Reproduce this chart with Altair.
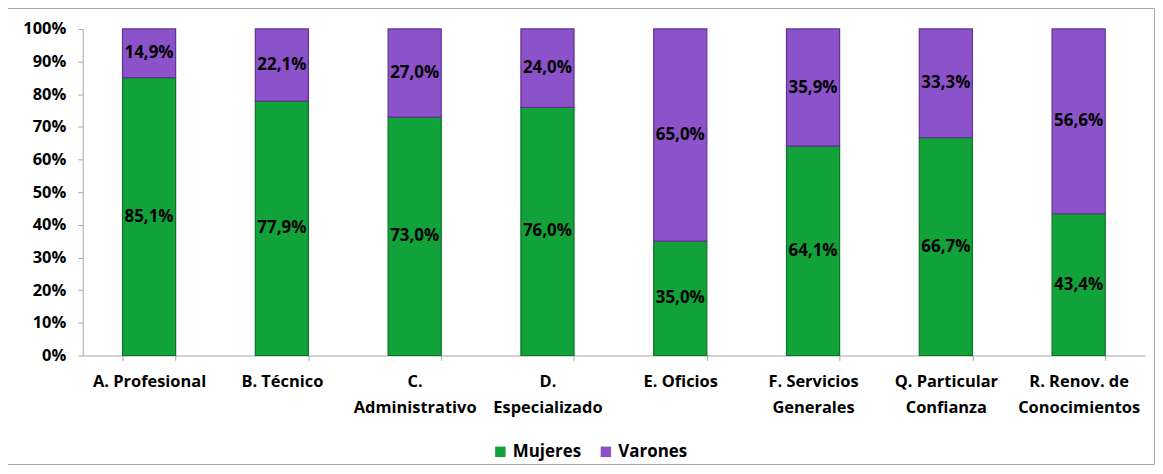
import altair as alt
import pandas as pd

categories = ["A. Profesional", "B. Técnico", "C. Administrativo", "D. Especializado",
              "E. Oficios", "F. Servicios Generales", "Q. Particular Confianza",
              "R. Renov. de Conocimientos"]
label_lines = [["A. Profesional"], ["B. Técnico"], ["C.", "Administrativo"],
               ["D.", "Especializado"], ["E. Oficios"], ["F. Servicios", "Generales"],
               ["Q. Particular", "Confianza"], ["R. Renov. de", "Conocimientos"]]
mujeres = [85.1, 77.9, 73.0, 76.0, 35.0, 64.1, 66.7, 43.4]
varones = [14.9, 22.1, 27.0, 24.0, 65.0, 35.9, 33.3, 56.6]
series = ["Mujeres", "Varones"]
colors = ["#12a23a", "#8c52c9"]
strokes = ["#0b7326", "#5f3393"]
y_ticks = [0.0, 0.1, 0.2, 0.3, 0.4, 0.5, 0.6, 0.7, 0.8, 0.9, 1.0]

rows = []
for i, c in enumerate(categories):
    for j, (s, vals) in enumerate(zip(series, [mujeres, varones])):
        v = vals[i]
        rows.append({"cat": c, "serie": s, "orden": j, "val": v / 100.0,
                     "txt": f"{v:.1f}%".replace(".", ",")})
df = pd.DataFrame(rows)

mapping = "{" + ",".join(
    "'" + c + "':[" + ",".join("'" + l + "'" for l in ls) + "]"
    for c, ls in zip(categories, label_lines)) + "}"

FONT = "Open Sans"
FS = 16.5
W, H = 1067, 328

base = alt.Chart(df).transform_stack(
    stack="val", groupby=["cat"], as_=["y0", "y1"],
    sort=[alt.SortField("orden", order="ascending")]
).transform_calculate(ym="(datum.y0 + datum.y1) / 2")

xaxis = alt.Axis(labelAngle=0, labelFontSize=FS, labelFontWeight="bold",
                 labelColor="#000000", labelFont=FONT, tickBand="extent",
                 tickSize=5, tickColor="#a6a6a6", domainColor="#a6a6a6",
                 labelPadding=13, labelLineHeight=26, labelBaseline="top",
                 labelExpr=mapping + "[datum.label]")
xscale = alt.Scale(paddingInner=0.6, paddingOuter=0.3)
yaxis = alt.Axis(format=".0%", values=y_ticks, labelOverlap=False,
                 grid=False, labelFontSize=FS, labelFontWeight="bold",
                 labelColor="#000000", labelFont=FONT, tickSize=5,
                 tickColor="#a6a6a6", domainColor="#a6a6a6", labelPadding=12)
yscale = alt.Scale(domain=[0, 1], nice=False)

bars = base.mark_bar(strokeWidth=1.2).encode(
    x=alt.X("cat:N", sort=categories, title=None, scale=xscale, axis=xaxis),
    y=alt.Y("y0:Q", title=None, scale=yscale, axis=yaxis),
    y2="y1:Q",
    color=alt.Color("serie:N", scale=alt.Scale(domain=series, range=colors),
                    legend=alt.Legend(title=None, orient="none", direction="horizontal",
                                      legendX=411, legendY=416, symbolType="square",
                                      symbolSize=110, labelFontSize=17,
                                      labelFontWeight="bold", labelFont=FONT,
                                      labelColor="#000000", columnPadding=16,
                                      labelOffset=4, symbolStrokeWidth=0)),
    stroke=alt.Stroke("serie:N", scale=alt.Scale(domain=series, range=strokes), legend=None),
)

labels = base.mark_text(fontSize=17, fontWeight="bold", font=FONT, color="#000000").encode(
    x=alt.X("cat:N", sort=categories, title=None, scale=xscale, axis=xaxis),
    y=alt.Y("ym:Q", title=None, scale=yscale, axis=yaxis),
    text="txt:N",
)

border = alt.Chart(pd.DataFrame({"b": [0]})).mark_rect(
    fill=None, stroke="#a6a6a6", strokeWidth=1, clip=False
).encode(x=alt.value(-75.5), x2=alt.value(1076.5), y=alt.value(-20.5), y2=alt.value(437.5))

chart = alt.layer(bars, labels, border).properties(
    width=W, height=H,
    autosize=alt.AutoSizeParams(type="none"),
    padding={"left": 75, "top": 20, "right": 10, "bottom": 110},
).configure(background="#ffffff").configure_view(stroke=None)

chart.save("out.html", embed_options={"renderer": "svg", "actions": False})
